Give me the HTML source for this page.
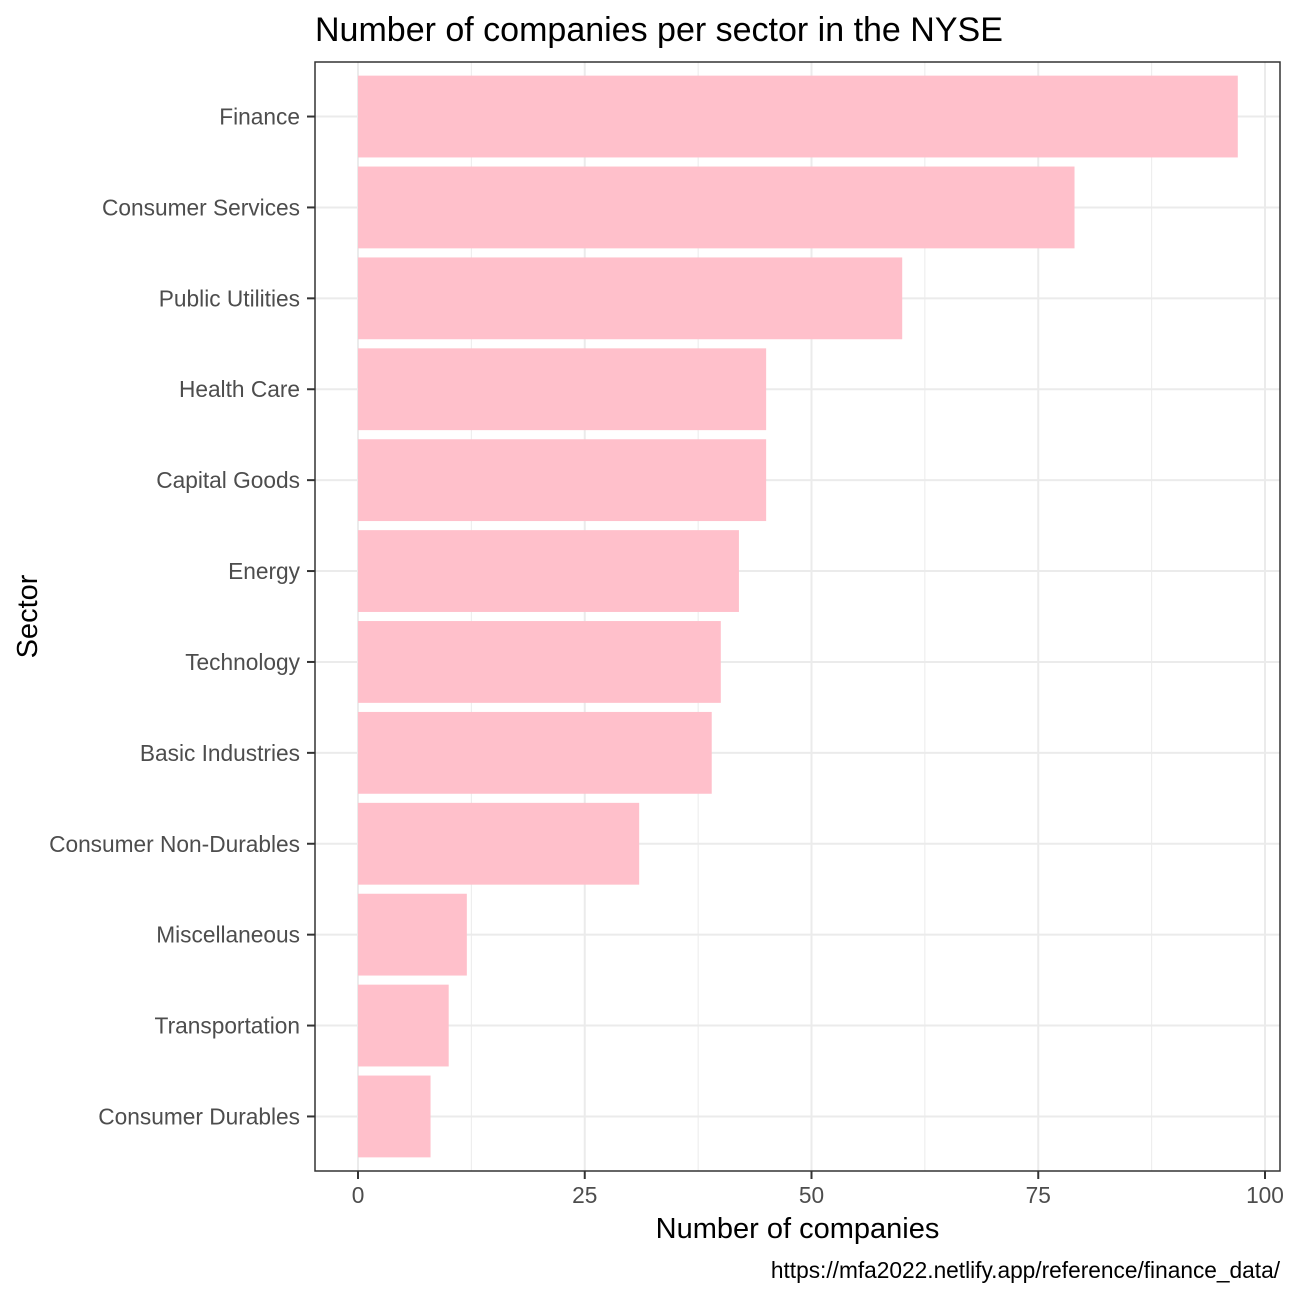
<!DOCTYPE html>
<html><head><meta charset="utf-8"><style>
body{margin:0;background:#fff;}
svg{display:block;font-family:"Liberation Sans",Arial,sans-serif;}
</style></head><body>
<svg id="chart" width="1296" height="1296"></svg>
<script>
const categories=["Finance","Consumer Services","Public Utilities","Health Care","Capital Goods","Energy","Technology","Basic Industries","Consumer Non-Durables","Miscellaneous","Transportation","Consumer Durables"];
const values=[97,79,60,45,45,42,40,39,31,12,10,8];
const xTicks=[0,25,50,75,100];
const xMinor=[12.5,37.5,62.5,87.5];

const NS="http://www.w3.org/2000/svg";
const svg=document.getElementById('chart');
const L=315,R=1280,T=62,B=1171;
const x0=358,x100=1265;
const xs=v=>x0+(x100-x0)*v/100;
const step=(B-T)/(categories.length-1+1.2);
const yc=i=>T+step*(i+0.6);
function mk(tag,attrs,text){const e=document.createElementNS(NS,tag);for(const k in attrs)e.setAttribute(k,attrs[k]);if(text!==undefined)e.textContent=text;svg.appendChild(e);return e;}

let e=mk('rect',{x:L,y:T,width:R-L,height:B-T,fill:'#fff'});


xMinor.forEach(v=>{const g=mk('line',{x1:xs(v),x2:xs(v),y1:T,y2:B,stroke:'#ebebeb','stroke-width':1});

});
xTicks.forEach(v=>{const g=mk('line',{x1:xs(v),x2:xs(v),y1:T,y2:B,stroke:'#ebebeb','stroke-width':2});

});
categories.forEach((c,i)=>{const g=mk('line',{x1:L,x2:R,y1:yc(i),y2:yc(i),stroke:'#ebebeb','stroke-width':2});

});
categories.forEach((c,i)=>{
 const bh=step*0.9;
 const b=mk('rect',{x:xs(0),y:yc(i)-bh/2,width:xs(values[i])-xs(0),height:bh,fill:'#ffc0cb'});
 
 
 const t=mk('line',{x1:L-8,x2:L,y1:yc(i),y2:yc(i),stroke:'#333','stroke-width':2});
 
 
 const l=mk('text',{x:L-15,y:yc(i)+8,'text-anchor':'end','font-size':22.7,fill:'#4d4d4d'},c);
 
 
});
xTicks.forEach(v=>{
 const t=mk('line',{x1:xs(v),x2:xs(v),y1:B,y2:B+8,stroke:'#333','stroke-width':2});
 
 
 const l=mk('text',{x:xs(v),y:B+32,'text-anchor':'middle','font-size':22.7,fill:'#4d4d4d'},String(v));
 
 
});
e=mk('rect',{x:L,y:T,width:R-L,height:B-T,fill:'none',stroke:'#333','stroke-width':1.5});


e=mk('text',{x:315,y:41,'font-size':34,fill:'#000'},'Number of companies per sector in the NYSE');


e=mk('text',{x:(L+R)/2,y:1238,'text-anchor':'middle','font-size':29,fill:'#000'},'Number of companies');


e=mk('text',{x:37,y:(T+B)/2,'text-anchor':'middle','font-size':29,fill:'#000',transform:'rotate(-90 37 '+((T+B)/2)+')'},'Sector');


e=mk('text',{x:1280,y:1278,'text-anchor':'end','font-size':22.7,fill:'#000'},'https://mfa2022.netlify.app/reference/finance_data/');


</script>
</body></html>
